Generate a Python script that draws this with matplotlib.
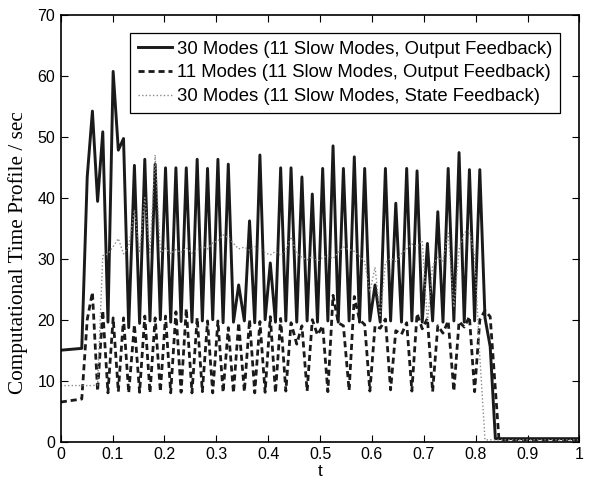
import numpy as np
import matplotlib
matplotlib.use("Agg")
import matplotlib.pyplot as plt

# shared sample times of the simulation
t_grid = [0.051, 0.061, 0.071, 0.081, 0.091, 0.101, 0.111, 0.121, 0.131, 0.142,
          0.152, 0.162, 0.172, 0.182, 0.192, 0.202, 0.212, 0.222, 0.232, 0.242,
          0.253, 0.263, 0.273, 0.283, 0.293, 0.303, 0.313, 0.323, 0.333, 0.343,
          0.354, 0.364, 0.374, 0.384, 0.394, 0.404, 0.414, 0.424, 0.434, 0.444,
          0.455, 0.465, 0.475, 0.485, 0.495, 0.505, 0.515, 0.525, 0.535, 0.545,
          0.556, 0.566, 0.576, 0.586, 0.596, 0.606, 0.616, 0.626, 0.636, 0.646,
          0.657, 0.667, 0.677, 0.687, 0.697, 0.707, 0.717, 0.727, 0.737, 0.747,
          0.758, 0.768, 0.778, 0.788, 0.798, 0.808, 0.818, 0.828, 0.838]

# 30 modes, output feedback (solid)
t_out30 = [0.0, 0.0405] + t_grid + [1.0]
y_out30 = [15.0, 15.3,
           43.4, 54.2, 39.4, 50.8, 19.6, 60.7, 47.8, 49.7, 18.7, 45.3,
           19.4, 46.3, 19.8, 45.5, 20.0, 44.9, 19.6, 44.9, 19.7, 44.9,
           19.6, 46.3, 19.8, 44.8, 20.0, 46.3, 19.5, 45.5, 19.6, 25.7,
           19.8, 36.2, 19.5, 47.0, 20.0, 29.3, 19.6, 44.9, 19.8, 44.9,
           19.6, 43.4, 19.8, 40.6, 19.6, 44.8, 19.8, 48.5, 19.6, 44.8,
           19.8, 46.7, 19.6, 44.8, 19.8, 25.7, 19.6, 44.8, 19.8, 39.1,
           19.6, 44.8, 19.8, 44.4, 19.6, 32.5, 19.8, 37.7, 19.6, 44.8,
           19.8, 47.4, 19.6, 44.6, 19.8, 44.6, 20.3, 15.6, 0.5,
           0.5]

# 11 modes, output feedback (dashed)
t_out11 = [0.0, 0.0405] + t_grid[:-1] + [0.845, 1.0]
y_out11 = [6.5, 7.0,
           20.0, 24.5, 8.3, 21.5, 8.0, 20.3, 8.2, 20.3, 8.0, 19.2,
           8.1, 20.6, 8.0, 20.3, 8.2, 20.6, 8.0, 21.3, 8.1, 21.8,
           8.0, 20.3, 8.2, 19.8, 8.0, 19.8, 8.1, 18.7, 8.0, 19.5,
           8.2, 20.0, 8.0, 19.7, 8.1, 20.5, 8.0, 20.2, 8.3, 19.5,
           16.0, 19.0, 8.3, 20.0, 17.5, 19.0, 8.2, 24.0, 19.5, 19.0,
           8.4, 23.8, 20.0, 19.2, 8.3, 19.0, 18.6, 20.1, 8.5, 18.2,
           17.6, 19.5, 8.3, 21.0, 18.5, 20.2, 8.2, 19.0, 17.8, 19.8,
           8.3, 19.7, 18.8, 20.5, 8.2, 20.0, 21.5, 20.5,
           0.3, 0.3]

# 30 modes, state feedback (dotted)
t_st30 = [0.0] + t_grid[:77] + [1.0]
y_st30 = [9.2,
          9.2, 9.2, 9.3, 30.5, 30.8, 32.0, 33.3, 30.8, 32.0, 38.0,
          31.0, 40.0, 31.0, 47.0, 31.0, 31.7, 30.8, 31.5, 31.0, 31.8,
          30.9, 31.4, 32.0, 31.6, 32.6, 32.9, 33.9, 33.5, 32.5, 31.6,
          31.9, 31.4, 32.0, 31.6, 31.0, 30.6, 31.2, 30.5, 31.3, 33.6,
          30.8, 30.2, 29.8, 30.4, 29.6, 30.2, 30.5, 30.0, 31.0, 31.9,
          31.5, 31.2, 30.4, 29.5, 24.5, 28.6, 20.5, 29.3, 30.1, 29.5,
          30.8, 31.6, 32.4, 32.0, 33.0, 19.5, 28.8, 30.3, 29.6, 34.2,
          22.0, 31.5, 34.3, 34.6, 30.5, 14.0, 0.3,
          0.3]

labels = ["30 Modes (11 Slow Modes, Output Feedback)",
          "11 Modes (11 Slow Modes, Output Feedback)",
          "30 Modes (11 Slow Modes, State Feedback)"]

plt.rcParams['font.family'] = ['Liberation Sans', 'DejaVu Sans']

fig = plt.figure(figsize=(5.9, 4.84), dpi=100)
ax = fig.add_axes([0.103, 0.0874, 0.879, 0.8822])

ax.plot(t_out30, y_out30, color='#1a1a1a', lw=2.1, label=labels[0])
ax.plot(t_out11, y_out11, color='#1a1a1a', lw=2.0, dashes=(2.2, 1.4), label=labels[1])
ax.plot(t_st30, y_st30, color='#8a8a8a', lw=1.0, linestyle=(0, (1, 1.6)), label=labels[2])

ax.set_xlim(0, 1)
ax.set_ylim(0, 70)
ax.set_xticks(np.arange(0, 1.01, 0.1))
ax.set_xticklabels(["0", "0.1", "0.2", "0.3", "0.4", "0.5", "0.6", "0.7", "0.8", "0.9", "1"])
ax.set_yticks(np.arange(0, 71, 10))
ax.tick_params(direction='in', top=True, right=True, length=5, width=0.8,
               labelsize=11.5, pad=4)
for s in ax.spines.values():
    s.set_linewidth(1.2)

ax.set_xlabel("t", fontsize=12.5, labelpad=1)
ax.set_ylabel("Computational Time Profile / sec", fontsize=15.3,
              family='Liberation Serif')
ax.yaxis.set_label_coords(-0.064, 0.443)

leg = ax.legend(loc='upper right', bbox_to_anchor=(0.9626, 0.957), fontsize=13.3,
                frameon=True, fancybox=False, framealpha=1, edgecolor='black',
                handlelength=1.85, handletextpad=0.25, borderpad=0.42,
                labelspacing=0.36, borderaxespad=0)
leg.get_frame().set_linewidth(0.9)

plt.savefig("out.png", dpi=100)
